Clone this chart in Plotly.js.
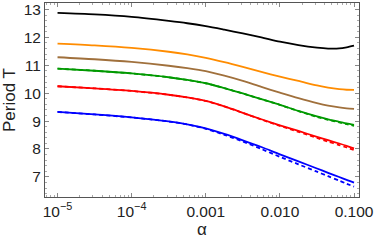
<!DOCTYPE html>
<html><head><meta charset="utf-8">
<script src="https://cdn.plot.ly/plotly-3.0.1.min.js"></script>
<style>body{margin:0;background:#fff}#c{width:374px;height:244px}</style>
</head><body><div id="c"></div>
<script>
const logAlpha = [-5,-4.5,-4,-3.5,-3.25,-3,-2.75,-2.5,-2.25,-2,-1.75,-1.5,-1.35,-1.2,-1.1,-1];
const blackT  = [12.875,12.821,12.731,12.588,12.505,12.398,12.272,12.140,11.996,11.842,11.720,11.631,11.599,11.602,11.642,11.703];
const orangeT = [11.774,11.710,11.620,11.484,11.387,11.262,11.108,10.939,10.760,10.591,10.437,10.276,10.197,10.143,10.122,10.115];
const brownT  = [11.287,11.215,11.118,10.982,10.896,10.789,10.624,10.437,10.222,10.018,9.821,9.642,9.552,9.487,9.455,9.434];
const greenT  = [10.878,10.803,10.706,10.570,10.473,10.355,10.179,9.989,9.785,9.584,9.362,9.165,9.065,8.975,8.914,8.860];
const greenD  = [10.878,10.803,10.706,10.570,10.473,10.355,10.179,9.989,9.785,9.584,9.355,9.151,9.047,8.953,8.889,8.831];
const redT    = [10.247,10.172,10.079,9.943,9.846,9.720,9.523,9.297,9.065,8.849,8.645,8.437,8.315,8.197,8.115,8.025];
const redD    = [10.247,10.172,10.079,9.943,9.846,9.720,9.523,9.294,9.054,8.828,8.613,8.394,8.265,8.140,8.054,7.961];
const blueT   = [9.326,9.237,9.129,8.986,8.878,8.735,8.538,8.312,8.072,7.810,7.556,7.301,7.147,6.996,6.892,6.792];
const blueD   = [9.326,9.237,9.129,8.986,8.878,8.724,8.509,8.265,8.000,7.720,7.452,7.186,7.025,6.867,6.756,6.649];
const xTickVals = [1e-5,1e-4,1e-3,1e-2,1e-1];
const xTickText = ['10<sup>−5</sup>','10<sup>−4</sup>','0.001','0.010','0.100'];

const alpha = logAlpha.map(v => Math.pow(10, v));
function tr(y, color, dash){
  return {x: alpha, y: y, type:'scatter', mode:'lines',
    line:{color:color, width:1.8, dash:dash||'solid', shape:'spline', smoothing:0.8},
    hoverinfo:'skip', showlegend:false};
}
const data = [
  tr(blackT,'#000000'), tr(orangeT,'#ff8c00'), tr(brownT,'#a0703c'),
  tr(greenT,'#009900'), tr(greenD,'#009900','4px,3px'),
  tr(redT,'#ff0000'), tr(redD,'#ff0000','4px,3px'),
  tr(blueT,'#0000ff'), tr(blueD,'#0000ff','4px,3px')
];
const minorX = [];
for (let e=-6; e<=-1; e++) for (let m=2; m<=9; m++) minorX.push(m*Math.pow(10,e));
const tickFnt = {family:'Liberation Sans, Arial, sans-serif', size:15.5, color:'#222'};
const titleFnt = {family:'Liberation Sans, Arial, sans-serif', size:17, color:'#222'};
const layout = {
  width:374, height:244,
  margin:{l:45, r:15, t:3, b:47},
  paper_bgcolor:'#fff', plot_bgcolor:'#fff',
  font: tickFnt,
  xaxis:{type:'log', range:[-5.169,-0.933], tickmode:'array', tickvals:xTickVals, ticktext:xTickText,
    ticks:'inside', ticklen:4, tickcolor:'#888', showgrid:false, zeroline:false,
    showline:true, linecolor:'#555', linewidth:1, mirror:'allticks',
    minor:{tickmode:'array', tickvals:minorX, ticks:'inside', ticklen:2, tickcolor:'#aaa', showgrid:false},
    title:{text:'α', font:titleFnt, standoff:2}, tickfont:tickFnt},
  yaxis:{range:[6.28,13.23], dtick:1, tick0:0,
    ticks:'inside', ticklen:4, tickcolor:'#888', showgrid:false, zeroline:false,
    showline:true, linecolor:'#555', linewidth:1, mirror:'allticks',
    minor:{dtick:0.2, ticks:'inside', ticklen:2, tickcolor:'#aaa', showgrid:false},
    title:{text:'Period T', font:titleFnt, standoff:3}, tickfont:tickFnt}
};
Plotly.newPlot('c', data, layout, {staticPlot:true, displayModeBar:false});
</script></body></html>
